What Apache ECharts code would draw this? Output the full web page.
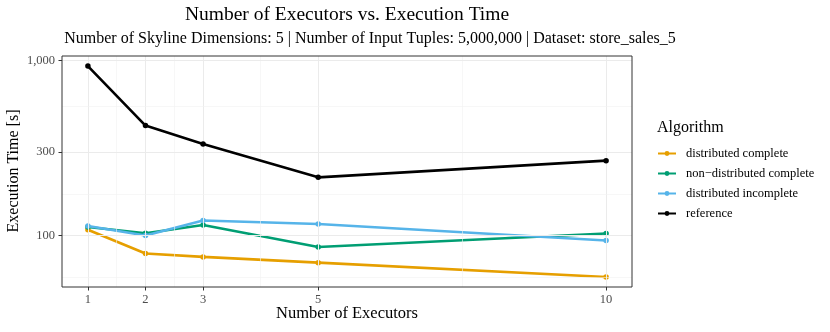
<!DOCTYPE html>
<html>
<head>
<meta charset="utf-8">
<script src="https://cdn.jsdelivr.net/npm/echarts@6/dist/echarts.min.js"></script>
<style>
html,body{margin:0;padding:0;background:#fff;}
#chart{width:830px;height:332px;}
</style>
</head>
<body>
<div id="chart"></div>
<script>
// ---- data ----
const executors = [1, 2, 3, 5, 10];
const distributedComplete = [108, 79, 75.5, 70, 58];
const nonDistributedComplete = [112, 103, 115, 86, 102.7];
const distributedIncomplete = [113.5, 100, 122, 116.5, 93.6];
const reference = [930, 425, 334, 215, 268];
const seriesNames = ['distributed complete', 'non\u2212distributed complete', 'distributed incomplete', 'reference'];
const xTicks = [1, 2, 3, 5, 10];
const xMinor = [1.5, 2.5, 4, 7.5];
const yTicks = [100, 300, 1000];
const yMinor = [57.7, 173.2, 547.7];

const FONT = '"Liberation Serif", "DejaVu Serif", serif';
const colors = ['#E69F00', '#009E73', '#56B4E9', '#000000'];
const values = [distributedComplete, nonDistributedComplete, distributedIncomplete, reference];

const chart = echarts.init(document.getElementById('chart'), null, {renderer: 'canvas'});

function pairs(arr) { return executors.map((x, i) => [x, arr[i]]); }

const gridLines = [];
xTicks.forEach(v => gridLines.push({xAxis: v, lineStyle: {color: '#ebebeb', width: 1, type: 'solid'}}));
xMinor.forEach(v => gridLines.push({xAxis: v, lineStyle: {color: '#f2f2f2', width: 0.6, type: 'solid'}}));
yTicks.forEach(v => gridLines.push({yAxis: v, lineStyle: {color: '#ebebeb', width: 1, type: 'solid'}}));
yMinor.forEach(v => gridLines.push({yAxis: v, lineStyle: {color: '#f2f2f2', width: 0.6, type: 'solid'}}));

const series = [{
  type: 'line', name: '__grid', data: [], silent: true, z: 0,
  markLine: {silent: true, symbol: ['none', 'none'], label: {show: false}, animation: false, data: gridLines}
}];
seriesNames.forEach((n, i) => {
  series.push({
    type: 'line', name: n, data: pairs(values[i]),
    color: colors[i],
    lineStyle: {width: 2.6, color: colors[i]},
    itemStyle: {color: colors[i], borderColor: colors[i], borderWidth: 0},
    symbol: 'circle', symbolSize: 5.5, showSymbol: true,
    z: 2 + i, animation: false
  });
});

chart.setOption({
  animation: false,
  textStyle: {fontFamily: FONT},
  grid: {left: 62, right: 198, top: 56, bottom: 45, containLabel: false, show: true, borderColor: '#333333', borderWidth: 1, backgroundColor: 'transparent', z: 10},
  xAxis: {
    type: 'value', min: 0.55, max: 10.45,
    axisLine: {show: false},
    splitLine: {show: false},
    axisTick: {show: true, length: 3.5, lineStyle: {color: '#333333'}, customValues: xTicks},
    axisLabel: {customValues: xTicks, color: '#4d4d4d', fontSize: 12.5, fontFamily: FONT, margin: 6}
  },
  yAxis: {
    type: 'log', logBase: 10, min: 50.8, max: 1062,
    axisLine: {show: false},
    splitLine: {show: false},
    minorSplitLine: {show: false},
    axisTick: {show: true, length: 3.5, lineStyle: {color: '#333333'}, customValues: yTicks},
    axisLabel: {customValues: yTicks, color: '#4d4d4d', fontSize: 12.5, fontFamily: FONT, margin: 7,
      formatter: v => Math.round(v).toLocaleString('en-US')}
  },
  legend: {
    data: seriesNames.map(n => ({name: n, itemStyle: {borderWidth: 0}})),
    orient: 'vertical', left: 652, top: 142,
    itemWidth: 18, itemHeight: 6, itemGap: 7,
    textStyle: {fontFamily: FONT, fontSize: 12.5, color: '#000', padding: [0, 0, 0, 5]},
    selectedMode: false
  },
  graphic: [
    {type: 'text', x: 347, y: 15, style: {text: 'Number of Executors vs. Execution Time', font: '19.5px ' + FONT, fill: '#000', textAlign: 'center', textVerticalAlign: 'middle'}},
    {type: 'text', x: 370, y: 38.5, style: {text: 'Number of Skyline Dimensions: 5 | Number of Input Tuples: 5,000,000 | Dataset: store_sales_5', font: '16px ' + FONT, fill: '#000', textAlign: 'center', textVerticalAlign: 'middle'}},
    {type: 'text', x: 347, y: 314, style: {text: 'Number of Executors', font: '16.5px ' + FONT, fill: '#000', textAlign: 'center', textVerticalAlign: 'middle'}},
    {type: 'text', x: 14, y: 171, rotation: Math.PI / 2, style: {text: 'Execution Time [s]', font: '16px ' + FONT, fill: '#000', textAlign: 'center', textVerticalAlign: 'middle'}},
    {type: 'text', x: 657, y: 128, style: {text: 'Algorithm', font: '16px ' + FONT, fill: '#000', textAlign: 'left', textVerticalAlign: 'middle'}}
  ],
  series: series
});
</script>
</body>
</html>
